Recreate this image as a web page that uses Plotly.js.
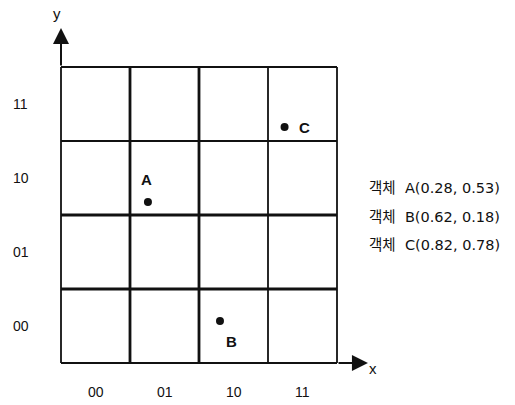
<!DOCTYPE html>
<html><head><meta charset="utf-8">
<script src="https://cdn.plot.ly/plotly-3.0.1.min.js"></script>
<style>body{margin:0;background:#fff}#c{width:515px;height:405px}</style>
</head><body><div id="c"></div>
<script>
// grid division values (unit square split in 4)
const gridVals = [0, 0.25, 0.5, 0.75, 1];
const thickX = [0.25, 0.5];
const thickY = [0.25, 0.5];
const codeLabels = ['00', '01', '10', '11'];
const cellCenters = [0.125, 0.375, 0.625, 0.875];
// objects (positions as seen in the picture)
const objNames = ['A', 'B', 'C'];
const objX = [0.315, 0.576, 0.81];
const objY = [0.544, 0.142, 0.797];
const objText = ['객체  A(0.28, 0.53)', '객체  B(0.62, 0.18)', '객체  C(0.82, 0.78)'];

const shapes = [];
gridVals.forEach(v => {
  shapes.push({type:'line', xref:'x', yref:'y', x0:v, x1:v, y0:0, y1:1,
    line:{color:'#111', width: thickX.includes(v) ? 2.8 : 1.8}});
  shapes.push({type:'line', xref:'x', yref:'y', x0:0, x1:1, y0:v, y1:v,
    line:{color:'#111', width: thickY.includes(v) ? 2.8 : 1.8}});
});

const ann = [];
codeLabels.forEach((t, i) => {
  ann.push({x:-0.145, y:cellCenters[i], xref:'x', yref:'y', text:t, showarrow:false,
    font:{family:'Liberation Sans, Arial', size:14, color:'#111'}});
  ann.push({x:cellCenters[i], y:-0.097, xref:'x', yref:'y', text:t, showarrow:false,
    font:{family:'Liberation Sans, Arial', size:14, color:'#111'}});
});
// axis arrows
ann.push({x:0, y:1.132, ax:0, ay:1, xref:'x', yref:'y', axref:'x', ayref:'y', text:'',
  showarrow:true, arrowhead:2, arrowsize:1.6, arrowwidth:2, arrowcolor:'#111'});
ann.push({x:1.112, y:0, ax:1, ay:0, xref:'x', yref:'y', axref:'x', ayref:'y', text:'',
  showarrow:true, arrowhead:2, arrowsize:1.6, arrowwidth:2, arrowcolor:'#111'});
ann.push({x:-0.015, y:1.18, xref:'x', yref:'y', text:'y', showarrow:false,
  font:{family:'Liberation Sans, Arial', size:15, color:'#111'}});
ann.push({x:1.13, y:-0.017, xref:'x', yref:'y', text:'x', showarrow:false,
  font:{family:'Liberation Sans, Arial', size:15, color:'#111'}});
// point labels
const labOffX = [-0.007, 0.043, 0.072];
const labOffY = [0.075, -0.07, 0];
objNames.forEach((n, i) => {
  ann.push({x:objX[i] + labOffX[i], y:objY[i] + labOffY[i], xref:'x', yref:'y', text:'<b>' + n + '</b>', showarrow:false,
    font:{family:'Liberation Sans, Arial', size:15, color:'#111'}});
});
// object list
const listY = [0.591, 0.493, 0.399];
objText.forEach((t, i) => {
  ann.push({x:1.11, y:listY[i], xref:'x', yref:'y', text:t, showarrow:false, xanchor:'left',
    font:{family:'DejaVu Sans, Noto Sans CJK KR', size:14.5, color:'#111'}});
});

const trace = {x:objX, y:objY, mode:'markers', type:'scatter',
  marker:{color:'#111', size:8}, hoverinfo:'none'};

const layout = {
  width:515, height:405, margin:{l:0, r:0, t:0, b:0},
  paper_bgcolor:'#fff', plot_bgcolor:'#fff', showlegend:false,
  xaxis:{range:[-61/276, 454/276], visible:false, fixedrange:true},
  yaxis:{range:[-42/296, 363/296], visible:false, fixedrange:true},
  shapes:shapes, annotations:ann
};
Plotly.newPlot('c', [trace], layout, {staticPlot:true});
</script></body></html>
